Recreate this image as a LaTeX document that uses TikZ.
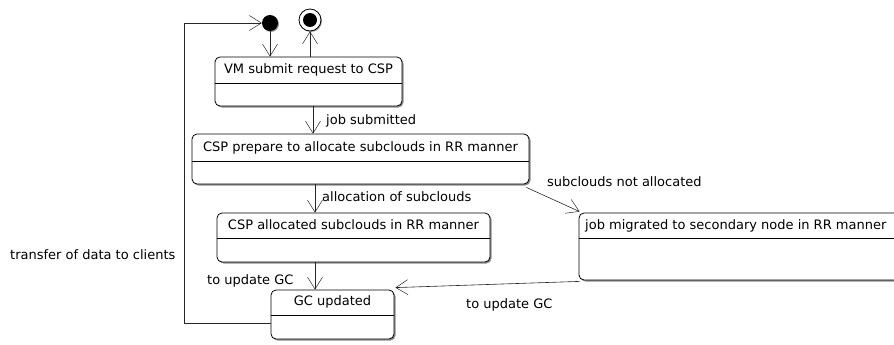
\documentclass[tikz,border=0pt]{standalone}
\usepackage{fontspec}
\setmainfont{DejaVu Sans}
\usetikzlibrary{arrows.meta,shadows}
\begin{document}
\begin{tikzpicture}[x=1pt,y=-1pt,
  statebox/.style={draw=black, line width=0.8pt, rounded corners=5pt, fill=white,
    drop shadow={shadow xshift=1.5pt, shadow yshift=-1.5pt, fill=black!45, opacity=1},
    inner sep=0pt},
  divider/.style={draw=black, line width=0.7pt},
  conn/.style={draw=black!85, line width=0.6pt},
  arr/.style={conn, -{Straight Barb[length=12pt,width=15pt,line width=0.5pt]}},
  lbl/.style={font=\fontsize{13pt}{15pt}\selectfont, inner sep=0pt, anchor=west},
  ttl/.style={font=\fontsize{13pt}{15pt}\selectfont, inner sep=0pt}
]
\useasboundingbox (0,0) rectangle (894,345);
\begin{scope}
\clip (0,0) rectangle (894,345);
% initial and final
\node[circle, fill=black, minimum size=16pt, inner sep=0pt,
  drop shadow={shadow xshift=1pt, shadow yshift=-1pt, fill=black!40, opacity=1}] (init) at (270,23) {};
\node[circle, draw=black, line width=0.8pt, fill=white, minimum size=22pt, inner sep=0pt,
  drop shadow={shadow xshift=1pt, shadow yshift=-1pt, fill=black!40, opacity=1}] (fin) at (310,20) {};
\node[circle, fill=black, minimum size=14pt, inner sep=0pt] (finin) at (fin) {};

% boxes
\node[statebox, minimum width=187pt, minimum height=49pt] (b1) at (308.5,81.5) {};
\draw[divider] (b1.west |- 0,83) -- (b1.east |- 0,83);
\node[ttl] (t1) at (308.5,70) {VM submit request to CSP};

\node[statebox, minimum width=337pt, minimum height=50pt] (b2) at (360.5,159) {};
\draw[divider] (b2.west |- 0,161) -- (b2.east |- 0,161);
\node[ttl] (t2) at (360.5,147.5) {CSP prepare to allocate subclouds in RR manner};

\node[statebox, minimum width=273pt, minimum height=49pt] (b3) at (353.5,237.5) {};
\draw[divider] (b3.west |- 0,238) -- (b3.east |- 0,238);
\node[ttl] (t3) at (353.5,225) {CSP allocated subclouds in RR manner};

\node[statebox, minimum width=123pt, minimum height=49pt] (b4) at (332.5,314.5) {};
\draw[divider] (b4.west |- 0,315) -- (b4.east |- 0,315);
\node[ttl] (t4) at (332.5,302) {GC updated};

\node[statebox, minimum width=330pt, minimum height=67pt] (b5) at (744,246.5) {};
\draw[divider] (b5.west |- 0,238) -- (b5.east |- 0,238);
\node[ttl, anchor=west] (t5) at (585,225.5) {job migrated to secondary node in RR manner};

% connectors
\draw[arr] (init.south) -- (init.south |- b1.north);
\draw[arr] (fin.south |- b1.north) -- (fin.south);
\draw[arr] (313,0 |- b1.south) -- (313,0 |- b2.north);
\draw[arr] (315,0 |- b2.south) -- (315,0 |- b3.north);
\draw[arr] (315,0 |- b3.south) -- (315,0 |- b4.north);
\draw[arr] ([shift={(-3pt,-3pt)}]b2.south east) -- ([shift={(1pt,1pt)}]b5.north west);
\draw[arr] ([shift={(1pt,-1pt)}]b5.south west) -- ([shift={(1pt,2pt)}]b4.north east);
\coordinate (lp1) at (184,323);
\coordinate (lp2) at (184,23);
\draw[arr] (b4.west |- lp1) -- (lp1) -- (lp2) -- (init.west);

% labels
\node[lbl] (l1) at (326,121) {job submitted};
\node[lbl] (l2) at (322,197) {allocation of subclouds};
\node[lbl] (l3) at (547,182) {subclouds not allocated};
\node[lbl] (l4) at (207,281) {to update GC};
\node[lbl] (l5) at (466,305) {to update GC};
\node[lbl] (l6) at (10,255) {transfer of data to clients};
\end{scope}
\end{tikzpicture}
\end{document}
